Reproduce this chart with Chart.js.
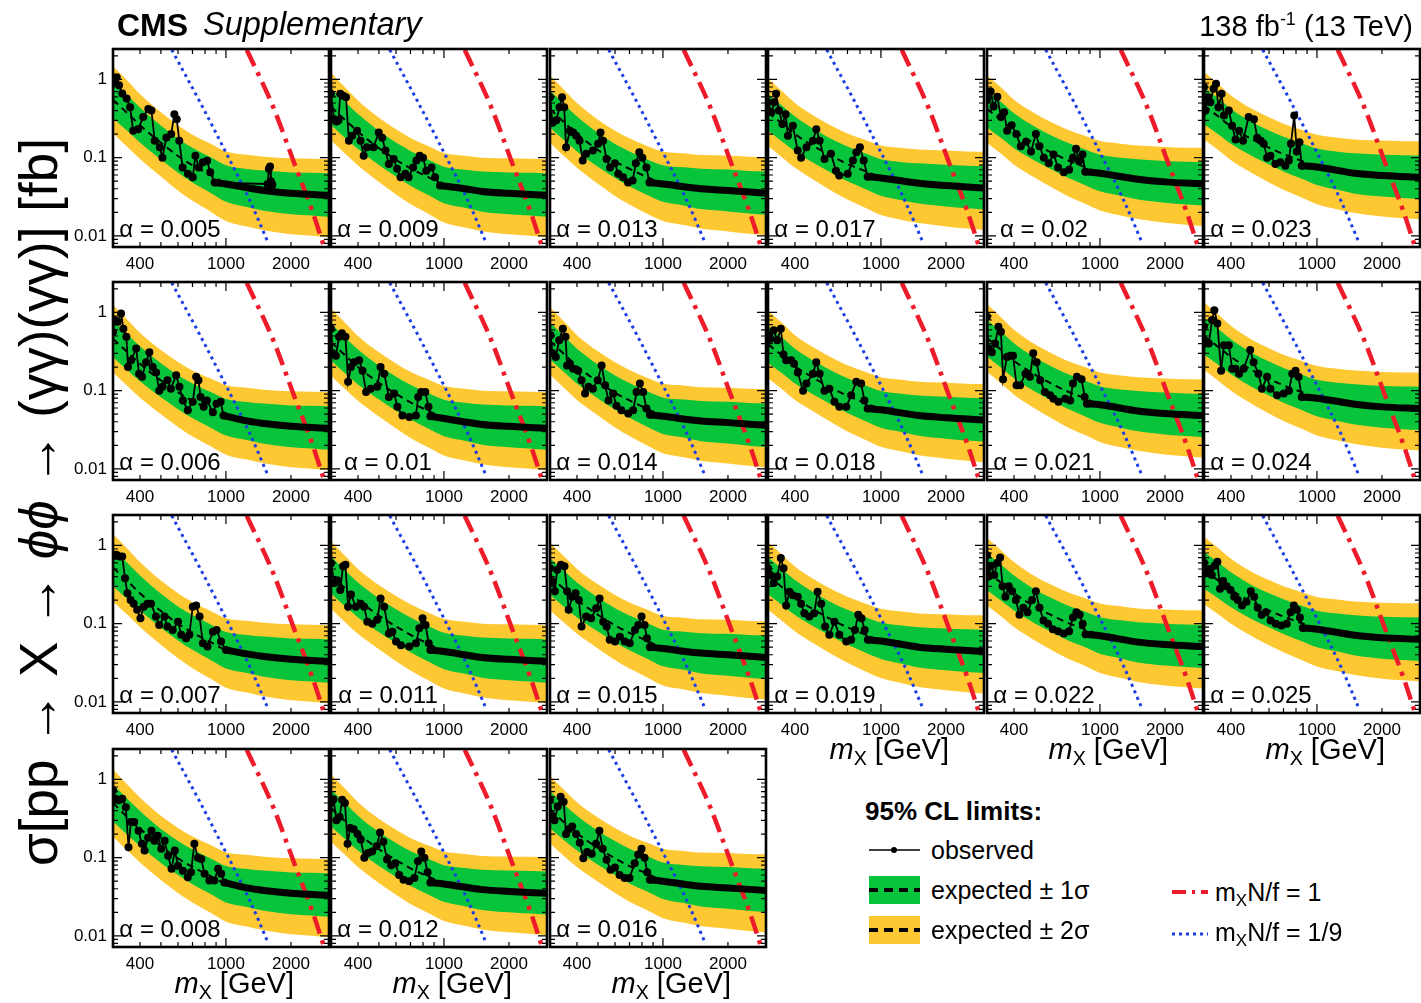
<!DOCTYPE html>
<html>
<head>
<meta charset="utf-8">
<script src="https://cdn.jsdelivr.net/npm/chart.js@4.4.1/dist/chart.umd.min.js"></script>
<style>
  body { margin: 0; background: #fff; width: 1421px; height: 1003px; position: relative; overflow: hidden;
         font-family: "Liberation Sans", Arial, sans-serif; color: #000; }
  canvas { position: absolute; }
  .txt { position: absolute; white-space: nowrap; line-height: 1; }
  .sub { font-size: 0.68em; position: relative; top: 0.28em; }
  .sup { font-size: 0.62em; position: relative; top: -0.62em; }
  #ytitle { position: absolute; left: 38px; top: 502px; white-space: nowrap; line-height: 1; font-size: 53px;
            transform: translate(-50%, -50%) rotate(-90deg); }
</style>
</head>
<body>
<div id="ytitle">σ[pp → X → <i>ϕϕ</i> → (γγ)(γγ)] [fb]</div>
<script>
// alpha values, one panel each
const alphas = ['0.005', '0.006', '0.007', '0.008', '0.009', '0.01', '0.011', '0.012', '0.013', '0.014', '0.015',
  '0.016', '0.017', '0.018', '0.019', '0.02', '0.021', '0.022', '0.023', '0.024', '0.025'];

const xTickLabels = [400, 1000, 2000];
const yTickLabels = [0.01, 0.1, 1];

// expected limit (median) on a common mass grid, GeV -> fb
const bandMass = [300, 350, 400, 500, 600, 700, 850, 1000, 1250, 1500, 2000, 2500, 3000];
const expected = [
  [0.55, 0.37, 0.26, 0.155, 0.105, 0.080, 0.060, 0.047, 0.041, 0.038, 0.035, 0.034, 0.033],
  [0.46, 0.31, 0.22, 0.135, 0.095, 0.074, 0.057, 0.046, 0.041, 0.038, 0.035, 0.034, 0.033],
  [0.52, 0.35, 0.245, 0.145, 0.100, 0.077, 0.058, 0.046, 0.041, 0.038, 0.035, 0.034, 0.033],
  [0.50, 0.33, 0.235, 0.140, 0.098, 0.076, 0.058, 0.046, 0.041, 0.038, 0.035, 0.034, 0.033],
  [0.45, 0.30, 0.215, 0.132, 0.094, 0.073, 0.056, 0.045, 0.040, 0.037, 0.035, 0.034, 0.033],
  [0.42, 0.28, 0.20, 0.126, 0.091, 0.071, 0.055, 0.045, 0.040, 0.037, 0.035, 0.034, 0.033],
  [0.42, 0.28, 0.20, 0.127, 0.092, 0.072, 0.055, 0.045, 0.040, 0.037, 0.035, 0.034, 0.033],
  [0.43, 0.29, 0.205, 0.128, 0.093, 0.073, 0.057, 0.047, 0.042, 0.039, 0.037, 0.036, 0.035],
  [0.42, 0.28, 0.20, 0.125, 0.090, 0.072, 0.056, 0.047, 0.043, 0.040, 0.038, 0.036, 0.035],
  [0.43, 0.29, 0.205, 0.130, 0.094, 0.075, 0.058, 0.048, 0.044, 0.041, 0.039, 0.037, 0.036],
  [0.40, 0.275, 0.20, 0.130, 0.095, 0.076, 0.060, 0.049, 0.045, 0.042, 0.040, 0.038, 0.037],
  [0.41, 0.28, 0.205, 0.133, 0.098, 0.078, 0.062, 0.051, 0.046, 0.043, 0.041, 0.039, 0.038],
  [0.38, 0.27, 0.20, 0.135, 0.102, 0.083, 0.067, 0.056, 0.050, 0.047, 0.044, 0.042, 0.041],
  [0.39, 0.28, 0.205, 0.140, 0.106, 0.086, 0.069, 0.058, 0.052, 0.048, 0.045, 0.043, 0.042],
  [0.41, 0.29, 0.215, 0.145, 0.110, 0.090, 0.072, 0.061, 0.054, 0.050, 0.047, 0.045, 0.044],
  [0.42, 0.30, 0.22, 0.150, 0.115, 0.094, 0.076, 0.064, 0.057, 0.053, 0.049, 0.047, 0.046],
  [0.47, 0.33, 0.24, 0.160, 0.122, 0.099, 0.080, 0.067, 0.059, 0.055, 0.051, 0.049, 0.048],
  [0.46, 0.33, 0.245, 0.165, 0.127, 0.104, 0.085, 0.071, 0.063, 0.058, 0.054, 0.052, 0.051],
  [0.46, 0.335, 0.25, 0.172, 0.134, 0.111, 0.091, 0.077, 0.068, 0.063, 0.059, 0.057, 0.056],
  [0.50, 0.36, 0.27, 0.183, 0.142, 0.117, 0.096, 0.081, 0.072, 0.067, 0.062, 0.060, 0.059],
  [0.48, 0.355, 0.27, 0.187, 0.147, 0.123, 0.101, 0.086, 0.077, 0.071, 0.066, 0.064, 0.063]
];

// band edges as factors on the median
const sigma1Up = [1.72, 1.70, 1.68, 1.66, 1.66, 1.67, 1.68, 1.70, 1.75, 1.80, 1.85, 1.88, 1.90];
const sigma1Down = [0.58, 0.59, 0.60, 0.61, 0.61, 0.60, 0.59, 0.58, 0.57, 0.55, 0.54, 0.535, 0.53];
const sigma2Up = [2.7, 2.6, 2.5, 2.45, 2.45, 2.45, 2.5, 2.55, 2.65, 2.7, 2.8, 2.85, 2.9];
const sigma2Down = [0.37, 0.37, 0.37, 0.37, 0.36, 0.35, 0.34, 0.33, 0.32, 0.31, 0.30, 0.295, 0.29];

// observed limit, low-mass scan points [mass, limit]
const observed = [
  [[301, 0.92], [312, 1.07], [320, 0.84], [331, 0.66], [347, 0.57], [360, 0.44], [372, 0.22], [392, 0.23], [414, 0.33], [437, 0.42], [452, 0.40], [468, 0.165], [494, 0.136], [508, 0.10], [530, 0.18], [558, 0.20], [577, 0.36], [592, 0.31], [608, 0.165], [630, 0.075], [667, 0.062], [702, 0.056], [722, 0.106], [749, 0.075], [782, 0.087], [818, 0.091], [846, 0.065], [887, 0.048], [1560, 0.046], [1580, 0.072], [1600, 0.077], [1615, 0.05], [1640, 0.045]],
  [[300, 0.56], [305, 0.8], [316, 0.76], [327, 0.97], [335, 0.62], [346, 0.49], [352, 0.2], [364, 0.245], [384, 0.345], [396, 0.165], [409, 0.15], [427, 0.23], [442, 0.31], [458, 0.2], [475, 0.17], [491, 0.10], [509, 0.112], [536, 0.136], [556, 0.106], [588, 0.157], [609, 0.112], [632, 0.075], [666, 0.056], [702, 0.072], [728, 0.15], [746, 0.136], [763, 0.083], [789, 0.062], [816, 0.075], [870, 0.053], [905, 0.068], [945, 0.072], [975, 0.048]],
  [[300, 0.72], [311, 0.76], [321, 0.72], [331, 0.72], [341, 0.38], [350, 0.245], [362, 0.20], [374, 0.18], [388, 0.15], [402, 0.117], [416, 0.165], [433, 0.18], [450, 0.18], [474, 0.123], [491, 0.096], [519, 0.123], [536, 0.092], [567, 0.083], [600, 0.106], [621, 0.072], [654, 0.065], [677, 0.072], [702, 0.165], [728, 0.17], [755, 0.123], [782, 0.056], [822, 0.051], [870, 0.079], [905, 0.083], [949, 0.059], [1000, 0.046]],
  [[300, 0.72], [308, 0.565], [319, 0.54], [331, 0.565], [344, 0.44], [354, 0.136], [363, 0.285], [376, 0.285], [394, 0.22], [408, 0.15], [420, 0.123], [436, 0.18], [452, 0.22], [466, 0.165], [483, 0.19], [502, 0.13], [520, 0.165], [540, 0.106], [560, 0.072], [580, 0.123], [600, 0.079], [632, 0.068], [666, 0.056], [689, 0.065], [714, 0.15], [742, 0.10], [769, 0.096], [796, 0.062], [838, 0.051], [884, 0.051], [920, 0.072], [951, 0.062], [983, 0.048]],
  [[300, 0.655], [310, 0.31], [318, 0.29], [325, 0.30], [331, 0.655], [342, 0.62], [352, 0.59], [363, 0.165], [376, 0.19], [396, 0.22], [411, 0.165], [425, 0.106], [440, 0.136], [472, 0.136], [499, 0.21], [518, 0.18], [536, 0.123], [556, 0.083], [585, 0.096], [607, 0.072], [630, 0.056], [663, 0.062], [686, 0.056], [720, 0.075], [746, 0.092], [772, 0.106], [800, 0.10], [828, 0.068], [876, 0.075], [910, 0.056], [959, 0.044]],
  [[300, 0.62], [305, 0.30], [316, 0.28], [327, 0.49], [337, 0.54], [350, 0.49], [360, 0.13], [371, 0.20], [384, 0.23], [405, 0.245], [420, 0.18], [436, 0.096], [458, 0.106], [491, 0.112], [509, 0.20], [529, 0.165], [556, 0.083], [588, 0.092], [609, 0.062], [642, 0.048], [691, 0.046], [742, 0.048], [760, 0.083], [785, 0.096], [820, 0.096], [848, 0.062], [866, 0.047]],
  [[300, 0.59], [311, 0.33], [321, 0.36], [331, 0.27], [341, 0.54], [350, 0.565], [360, 0.165], [371, 0.235], [391, 0.165], [412, 0.18], [427, 0.165], [442, 0.106], [466, 0.10], [491, 0.112], [509, 0.21], [529, 0.165], [556, 0.075], [577, 0.079], [600, 0.059], [632, 0.053], [691, 0.051], [742, 0.056], [769, 0.087], [796, 0.117], [822, 0.096], [850, 0.056], [866, 0.046]],
  [[300, 0.5], [308, 0.56], [318, 0.3], [329, 0.33], [338, 0.55], [348, 0.5], [358, 0.15], [368, 0.24], [382, 0.23], [398, 0.2], [412, 0.17], [428, 0.1], [445, 0.115], [465, 0.12], [488, 0.14], [506, 0.21], [524, 0.16], [545, 0.095], [570, 0.08], [595, 0.085], [620, 0.06], [650, 0.052], [690, 0.05], [730, 0.055], [758, 0.09], [785, 0.12], [812, 0.1], [840, 0.065], [866, 0.048]],
  [[300, 0.59], [308, 0.28], [321, 0.30], [332, 0.44], [341, 0.59], [349, 0.44], [356, 0.136], [371, 0.22], [384, 0.21], [397, 0.19], [411, 0.165], [425, 0.092], [441, 0.112], [474, 0.123], [501, 0.15], [514, 0.21], [528, 0.165], [548, 0.096], [569, 0.075], [599, 0.085], [621, 0.062], [654, 0.056], [689, 0.048], [724, 0.051], [749, 0.085], [777, 0.117], [803, 0.10], [838, 0.075], [866, 0.048]],
  [[302, 0.51], [308, 0.30], [319, 0.27], [331, 0.44], [344, 0.62], [354, 0.49], [360, 0.21], [371, 0.22], [384, 0.19], [405, 0.18], [420, 0.136], [436, 0.092], [452, 0.112], [474, 0.106], [499, 0.136], [520, 0.21], [540, 0.117], [560, 0.075], [588, 0.092], [609, 0.064], [642, 0.056], [691, 0.051], [728, 0.056], [755, 0.096], [782, 0.123], [810, 0.096], [838, 0.059], [870, 0.049]],
  [[300, 0.51], [308, 0.345], [316, 0.26], [324, 0.49], [337, 0.565], [350, 0.54], [360, 0.26], [366, 0.15], [380, 0.22], [394, 0.245], [408, 0.20], [420, 0.092], [441, 0.123], [465, 0.117], [491, 0.157], [509, 0.21], [529, 0.106], [549, 0.092], [567, 0.062], [600, 0.059], [632, 0.068], [666, 0.059], [702, 0.056], [742, 0.083], [769, 0.096], [796, 0.123], [822, 0.096], [843, 0.065], [870, 0.050]],
  [[300, 0.55], [306, 0.33], [315, 0.3], [326, 0.45], [336, 0.6], [347, 0.52], [356, 0.2], [366, 0.23], [380, 0.25], [396, 0.2], [412, 0.155], [428, 0.098], [446, 0.118], [468, 0.112], [490, 0.15], [508, 0.22], [526, 0.13], [548, 0.094], [572, 0.07], [600, 0.075], [630, 0.06], [665, 0.055], [700, 0.055], [740, 0.085], [768, 0.11], [796, 0.13], [822, 0.1], [846, 0.065], [870, 0.052]],
  [[300, 0.51], [311, 0.38], [321, 0.51], [327, 0.655], [337, 0.40], [350, 0.27], [362, 0.36], [371, 0.19], [391, 0.255], [412, 0.123], [427, 0.10], [452, 0.136], [484, 0.165], [502, 0.23], [520, 0.165], [548, 0.096], [587, 0.112], [619, 0.068], [641, 0.059], [702, 0.062], [742, 0.092], [769, 0.117], [799, 0.136], [832, 0.092], [868, 0.057]],
  [[300, 0.51], [308, 0.46], [319, 0.59], [331, 0.44], [344, 0.62], [354, 0.29], [364, 0.245], [384, 0.245], [396, 0.22], [412, 0.17], [436, 0.10], [452, 0.123], [484, 0.165], [502, 0.23], [520, 0.165], [548, 0.10], [577, 0.106], [609, 0.072], [642, 0.062], [691, 0.062], [728, 0.087], [769, 0.13], [810, 0.123], [838, 0.075], [868, 0.059]],
  [[300, 0.51], [308, 0.42], [319, 0.33], [331, 0.40], [344, 0.69], [354, 0.51], [364, 0.17], [377, 0.255], [391, 0.23], [412, 0.22], [427, 0.18], [442, 0.136], [466, 0.123], [491, 0.136], [509, 0.255], [529, 0.18], [552, 0.092], [577, 0.072], [609, 0.106], [642, 0.072], [691, 0.059], [728, 0.062], [758, 0.083], [785, 0.13], [813, 0.117], [841, 0.083], [870, 0.062]],
  [[300, 0.55], [312, 0.7], [322, 0.45], [335, 0.6], [348, 0.33], [360, 0.38], [372, 0.22], [390, 0.26], [410, 0.2], [430, 0.14], [455, 0.16], [480, 0.12], [505, 0.2], [525, 0.14], [550, 0.1], [580, 0.085], [610, 0.11], [640, 0.075], [680, 0.065], [720, 0.07], [750, 0.1], [775, 0.13], [800, 0.09], [830, 0.11], [855, 0.066]],
  [[300, 0.88], [305, 0.345], [316, 0.31], [327, 0.40], [339, 0.655], [348, 0.565], [356, 0.14], [371, 0.27], [384, 0.28], [396, 0.28], [411, 0.117], [427, 0.117], [452, 0.165], [474, 0.15], [491, 0.30], [509, 0.23], [529, 0.136], [556, 0.096], [588, 0.087], [609, 0.079], [642, 0.072], [691, 0.079], [728, 0.075], [750, 0.123], [782, 0.15], [822, 0.14], [850, 0.083], [870, 0.068]],
  [[300, 0.75], [305, 0.4], [314, 0.55], [324, 0.42], [335, 0.6], [345, 0.7], [354, 0.3], [365, 0.22], [378, 0.3], [392, 0.26], [408, 0.2], [424, 0.13], [442, 0.16], [462, 0.14], [485, 0.2], [505, 0.26], [525, 0.16], [548, 0.11], [575, 0.1], [605, 0.085], [640, 0.08], [680, 0.075], [720, 0.08], [750, 0.12], [778, 0.14], [805, 0.13], [832, 0.1], [858, 0.073]],
  [[300, 0.8], [305, 0.40], [313, 0.59], [321, 0.51], [332, 0.76], [341, 0.88], [350, 0.44], [362, 0.655], [371, 0.345], [391, 0.40], [405, 0.255], [420, 0.17], [436, 0.22], [455, 0.165], [483, 0.33], [511, 0.31], [529, 0.18], [549, 0.165], [567, 0.15], [588, 0.10], [609, 0.106], [642, 0.083], [677, 0.087], [714, 0.079], [741, 0.092], [758, 0.15], [785, 0.345], [807, 0.12], [830, 0.157], [850, 0.079]],
  [[300, 0.655], [305, 0.40], [316, 0.40], [327, 0.80], [335, 1.07], [346, 0.72], [360, 0.18], [371, 0.38], [391, 0.38], [405, 0.19], [420, 0.19], [436, 0.165], [458, 0.19], [491, 0.33], [509, 0.23], [536, 0.165], [556, 0.106], [588, 0.15], [609, 0.106], [654, 0.087], [702, 0.092], [742, 0.10], [769, 0.165], [796, 0.18], [822, 0.15], [850, 0.083]],
  [[300, 0.6], [306, 0.45], [316, 0.5], [326, 0.42], [336, 0.55], [346, 0.62], [356, 0.28], [368, 0.35], [382, 0.3], [398, 0.27], [414, 0.22], [430, 0.2], [450, 0.17], [472, 0.19], [494, 0.26], [512, 0.22], [532, 0.16], [555, 0.13], [580, 0.14], [610, 0.11], [645, 0.1], [685, 0.095], [725, 0.1], [755, 0.14], [782, 0.17], [808, 0.15], [834, 0.12], [860, 0.088]]
];

// observed limit above the last resonance structure
const observedTail = [
  [[887, 0.048], [1000, 0.046], [1500, 0.038], [2000, 0.035], [3000, 0.033]],
  [[975, 0.048], [1250, 0.041], [1500, 0.038], [2000, 0.035], [3000, 0.033]],
  [[1000, 0.046], [1250, 0.041], [1500, 0.038], [2000, 0.035], [3000, 0.033]],
  [[983, 0.048], [1250, 0.041], [1500, 0.038], [2000, 0.035], [3000, 0.033]],
  [[959, 0.044], [1250, 0.040], [1500, 0.037], [2000, 0.035], [3000, 0.033]],
  [[866, 0.047], [1000, 0.044], [1500, 0.037], [2000, 0.035], [3000, 0.033]],
  [[866, 0.046], [1000, 0.044], [1500, 0.037], [2000, 0.035], [3000, 0.033]],
  [[866, 0.048], [1000, 0.046], [1500, 0.039], [2000, 0.037], [3000, 0.035]],
  [[866, 0.048], [1000, 0.046], [1500, 0.040], [2000, 0.038], [3000, 0.035]],
  [[870, 0.049], [1000, 0.047], [1500, 0.041], [2000, 0.039], [3000, 0.036]],
  [[870, 0.050], [1000, 0.048], [1500, 0.042], [2000, 0.040], [3000, 0.037]],
  [[870, 0.052], [1000, 0.050], [1500, 0.043], [2000, 0.041], [3000, 0.038]],
  [[868, 0.057], [1000, 0.055], [1500, 0.047], [2000, 0.044], [3000, 0.041]],
  [[868, 0.059], [1000, 0.057], [1500, 0.048], [2000, 0.045], [3000, 0.042]],
  [[870, 0.062], [1000, 0.060], [1500, 0.050], [2000, 0.047], [3000, 0.044]],
  [[855, 0.066], [1000, 0.063], [1500, 0.053], [2000, 0.049], [3000, 0.046]],
  [[870, 0.068], [1000, 0.066], [1500, 0.055], [2000, 0.051], [3000, 0.048]],
  [[858, 0.073], [1000, 0.070], [1500, 0.058], [2000, 0.054], [3000, 0.051]],
  [[850, 0.079], [1000, 0.076], [1500, 0.063], [2000, 0.059], [3000, 0.056]],
  [[850, 0.083], [1000, 0.080], [1500, 0.067], [2000, 0.062], [3000, 0.059]],
  [[860, 0.088], [1000, 0.085], [1500, 0.071], [2000, 0.066], [3000, 0.063]]
];

// model predictions, mX N/f = 1/9 and 1
const theoryNinthMass = [561, 759, 990, 1292, 1566];
const theoryNinthXs = [2.40, 0.51, 0.123, 0.028, 0.0082];
const theoryOneMass = [1248, 1657, 2049, 2538, 2822];
const theoryOneXs = [2.40, 0.44, 0.092, 0.019, 0.0078];

const YELLOW = '#fec832';
const GREEN = '#08c43a';
const RED = '#ee1c2a';
const BLUE = '#1c3ee6';
const FONT = '"Liberation Sans", Arial, sans-serif';

// panel geometry
const colLeft = [113, 331, 550, 768, 987, 1204];
const rowTop = [49, 282, 515, 749];
const PW = 216, PH = 198;
const PAD_L = 45, PAD_R = 6, PAD_T = 22, PAD_B = 34;

const xMarks = [400, 500, 600, 700, 800, 900, 1000, 2000];
const yMarks = [0.008, 0.009, 0.01, 0.02, 0.03, 0.04, 0.05, 0.06, 0.07, 0.08, 0.09, 0.1,
  0.2, 0.3, 0.4, 0.5, 0.6, 0.7, 0.8, 0.9, 1, 2];

// inner tick marks on all four sides plus the frame
const frameTicks = {
  id: 'frameTicks',
  afterDatasetsDraw(chart) {
    const { ctx, chartArea: a, scales: { x, y } } = chart;
    ctx.save();
    ctx.strokeStyle = '#000';
    ctx.lineWidth = 1.2;
    ctx.beginPath();
    xMarks.forEach(v => {
      const px = x.getPixelForValue(v);
      const len = v === 1000 ? 9 : 5;
      ctx.moveTo(px, a.bottom); ctx.lineTo(px, a.bottom - len);
      ctx.moveTo(px, a.top); ctx.lineTo(px, a.top + len);
    });
    yMarks.forEach(v => {
      const py = y.getPixelForValue(v);
      const len = yTickLabels.includes(v) ? 9 : 5;
      ctx.moveTo(a.left, py); ctx.lineTo(a.left + len, py);
      ctx.moveTo(a.right, py); ctx.lineTo(a.right - len, py);
    });
    ctx.stroke();
    ctx.lineWidth = 2.6;
    ctx.strokeRect(a.left, a.top, a.right - a.left, a.bottom - a.top);
    ctx.restore();
  }
};

function addText(html, x, baseline, size, opts = {}) {
  const d = document.createElement('div');
  d.className = 'txt';
  d.innerHTML = html;
  d.style.fontSize = size + 'px';
  d.style.top = (baseline - 0.8465 * size) + 'px';
  if (opts.bold) d.style.fontWeight = 'bold';
  if (opts.italic) d.style.fontStyle = 'italic';
  if (opts.align === 'right') d.style.right = (1421 - x) + 'px';
  else if (opts.align === 'center') { d.style.left = x + 'px'; d.style.transform = 'translateX(-50%)'; }
  else d.style.left = x + 'px';
  document.body.appendChild(d);
  return d;
}

function panelPos(i) {
  if (i < 12) return { col: Math.floor(i / 4), row: i % 4 };
  return { col: 3 + Math.floor((i - 12) / 3), row: (i - 12) % 3 };
}

function toPoints(mass, vals) {
  return mass.map((m, k) => ({ x: m, y: vals[k] }));
}

function makePanel(i) {
  const { col, row } = panelPos(i);
  const left = colLeft[col], top = rowTop[row];
  const cv = document.createElement('canvas');
  cv.width = PAD_L + PW + PAD_R;
  cv.height = PAD_T + PH + PAD_B;
  cv.style.left = (left - PAD_L) + 'px';
  cv.style.top = (top - PAD_T) + 'px';
  document.body.appendChild(cv);

  const med = expected[i];
  const band = f => bandMass.map((m, k) => ({ x: m, y: med[k] * f[k] }));
  const edge = { borderWidth: 0, borderColor: 'rgba(0,0,0,0)', pointRadius: 0, cubicInterpolationMode: 'monotone', clip: 0 };
  const pair = p => ({ x: p[0], y: p[1] });

  new Chart(cv, {
    type: 'line',
    data: {
      datasets: [
        { ...edge, data: band(sigma2Up), fill: '+1', backgroundColor: YELLOW, order: 6 },
        { ...edge, data: band(sigma2Down), fill: false, order: 6 },
        { ...edge, data: band(sigma1Up), fill: '+1', backgroundColor: GREEN, order: 5 },
        { ...edge, data: band(sigma1Down), fill: false, order: 5 },
        { data: toPoints(bandMass, med), borderColor: '#000', borderWidth: 2, borderDash: [7, 5],
          pointRadius: 0, cubicInterpolationMode: 'monotone', fill: false, clip: 0, order: 4 },
        { data: toPoints(theoryNinthMass, theoryNinthXs), borderColor: BLUE, borderWidth: 3, borderDash: [3, 4],
          pointRadius: 0, cubicInterpolationMode: 'monotone', fill: false, clip: 0, order: 3 },
        { data: toPoints(theoryOneMass, theoryOneXs), borderColor: RED, borderWidth: 4.5, borderDash: [18, 7, 4, 7],
          pointRadius: 0, cubicInterpolationMode: 'monotone', fill: false, clip: 0, order: 2 },
        { data: observedTail[i].map(pair), borderColor: '#000', borderWidth: 7, pointRadius: 0,
          cubicInterpolationMode: 'monotone', fill: false, clip: 0, order: 1 },
        { data: observed[i].map(pair), borderColor: '#000', borderWidth: 1.8, tension: 0,
          pointRadius: 4, pointBorderWidth: 0, pointBackgroundColor: '#000', fill: false, clip: 0, order: 0 }
      ]
    },
    options: {
      responsive: false,
      animation: false,
      events: [],
      layout: { padding: { left: 0, right: PAD_R, top: PAD_T, bottom: 0 } },
      plugins: { legend: { display: false }, tooltip: { enabled: false } },
      scales: {
        x: {
          type: 'logarithmic', min: 300, max: 3000,
          grid: { display: false, drawTicks: false }, border: { display: false },
          afterBuildTicks: s => { s.ticks = xTickLabels.map(v => ({ value: v })); },
          afterFit: s => { s.height = PAD_B; },
          ticks: { autoSkip: false, maxRotation: 0, minRotation: 0, padding: 7, color: '#000',
                   font: { family: FONT, size: 17 }, callback: v => String(v) }
        },
        y: {
          type: 'logarithmic', min: 0.0072, max: 2.45,
          grid: { display: false, drawTicks: false }, border: { display: false },
          afterBuildTicks: s => { s.ticks = yTickLabels.map(v => ({ value: v })); },
          afterFit: s => { s.width = PAD_L; },
          ticks: { display: col === 0, padding: 6, color: '#000',
                   font: { family: FONT, size: 17 }, callback: v => String(v) }
        }
      }
    },
    plugins: [frameTicks]
  });

  addText('α = ' + alphas[i], left + 57, top + 188, 24, { align: 'center' });
}

alphas.forEach((a, i) => makePanel(i));

// axis titles under the bottom panel of every column
colLeft.forEach((l, c) => {
  const bottom = c < 3 ? rowTop[3] + PH : rowTop[2] + PH;
  addText('<i>m</i><span class="sub">X</span> [GeV]', l + PW - 35, bottom + 47, 29, { align: 'right' });
});

// header
addText('CMS', 117, 36, 32, { bold: true });
addText('Supplementary', 203, 36, 32.5, { italic: true });
addText('138 fb<span class="sup">-1</span> (13 TeV)', 1413, 37, 29, { align: 'right' });

// legend
function sample(x, y, w, h, draw) {
  const c = document.createElement('canvas');
  c.width = w; c.height = h;
  c.style.left = x + 'px'; c.style.top = y + 'px';
  document.body.appendChild(c);
  draw(c.getContext('2d'), w, h);
}
addText('95% CL limits:', 865, 820, 26, { bold: true });
sample(866, 842, 58, 16, (g, w, h) => {
  g.strokeStyle = '#000'; g.lineWidth = 1.5;
  g.beginPath(); g.moveTo(3, 8); g.lineTo(54, 8); g.stroke();
  g.fillStyle = '#000'; g.beginPath(); g.arc(28, 8, 3, 0, Math.PI * 2); g.fill();
});
addText('observed', 931, 859, 25);
[[876, GREEN, 'expected ± 1σ', 899], [916, YELLOW, 'expected ± 2σ', 939]].forEach(([top, color, label, base]) => {
  sample(869, top, 51, 28, (g, w, h) => {
    g.fillStyle = color; g.fillRect(0, 0, w, h);
    g.strokeStyle = '#000'; g.lineWidth = 4; g.setLineDash([9, 6]);
    g.beginPath(); g.moveTo(0, h / 2); g.lineTo(w, h / 2); g.stroke();
  });
  addText(label, 931, base, 25);
});
sample(1170, 886, 40, 12, (g) => {
  g.strokeStyle = RED; g.lineWidth = 4; g.setLineDash([14, 6, 3, 6]);
  g.beginPath(); g.moveTo(2, 6); g.lineTo(38, 6); g.stroke();
});
addText('m<span class="sub">X</span>N/f = 1', 1215, 901, 25);
sample(1170, 928, 40, 12, (g) => {
  g.strokeStyle = BLUE; g.lineWidth = 3; g.setLineDash([3, 4]);
  g.beginPath(); g.moveTo(2, 6); g.lineTo(38, 6); g.stroke();
});
addText('m<span class="sub">X</span>N/f = 1/9', 1215, 941, 25);
</script>
</body>
</html>
